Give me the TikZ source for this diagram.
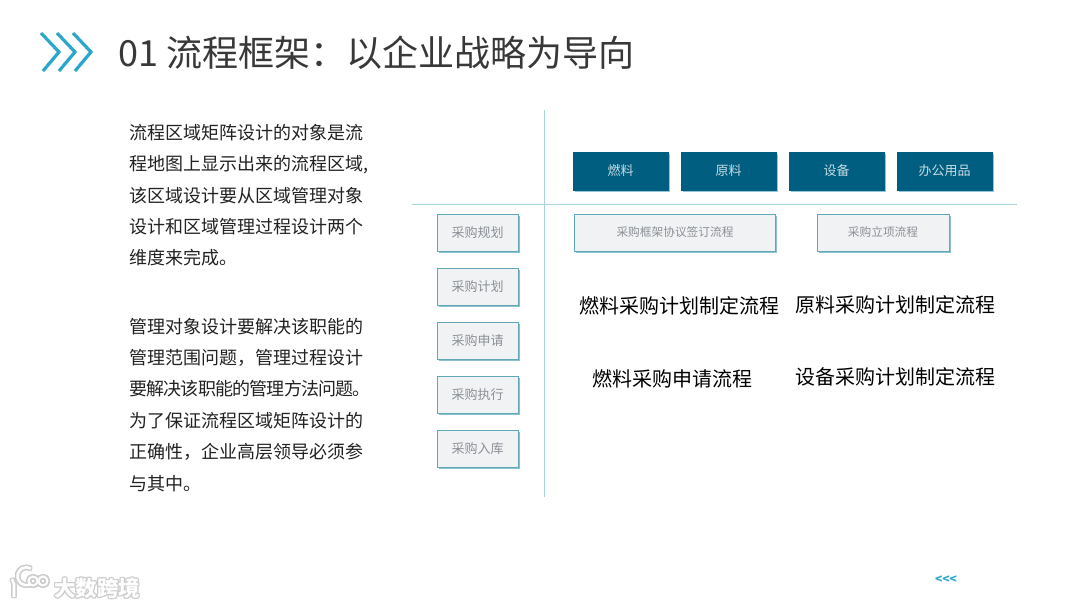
\documentclass[tikz,border=0pt]{standalone}
\usepackage{fontspec}
\setmainfont{Noto Sans CJK SC}
\usetikzlibrary{shadows}
\definecolor{deepteal}{HTML}{005F80}
\definecolor{edgeteal}{HTML}{5FA8BA}
\definecolor{paleline}{HTML}{A9D3DA}
\definecolor{paper}{HTML}{F1F2F4}
\definecolor{chev}{HTML}{2BA6CC}
\definecolor{greytext}{HTML}{8A9096}
\definecolor{bodytext}{HTML}{222222}
\tikzset{
  darkbox/.style={rectangle,fill=deepteal,draw=deepteal,line width=.5pt,minimum width=95pt,minimum height=38pt,inner sep=0pt,
    text=white!78!deepteal,font=\fontsize{13}{13}\selectfont,
    drop shadow={shadow xshift=2.2pt,shadow yshift=-2.2pt,fill=edgeteal,opacity=.65}},
  lightbox/.style={rectangle,fill=paper,draw=edgeteal,line width=1pt,minimum height=37pt,inner sep=0pt,
    text=greytext,font=\fontsize{13}{13}\selectfont,
    drop shadow={shadow xshift=1.6pt,shadow yshift=-1.6pt,fill=edgeteal,opacity=.7}},
  sidebox/.style={lightbox,minimum width=81pt},
  flowtext/.style={inner sep=0pt,text=black,font=\fontsize{20}{20}\selectfont},
  bodyline/.style={anchor=west,inner sep=0pt,text=bodytext,font=\fontsize{18}{18}\selectfont},
  axis/.style={draw=paleline,line width=1pt},
  chevron/.style={draw=chev,line width=3.2pt,line cap=butt,line join=miter},
}
\begin{document}
\begin{tikzpicture}[x=1pt,y=-1pt]
\useasboundingbox (0,0) rectangle (1080,608);
\fill[white] (0,0) rectangle (1080,608);
% title
\foreach \dx in {0,16,32}{
  \draw[chevron] (41+\dx,33) -- (59+\dx,52) -- (43+\dx,71);
}
\node[anchor=west,inner sep=0pt,text=black!78,font=\fontsize{36}{36}\selectfont] (title) at (118,53) {01 流程框架：以企业战略为导向};
% axes
\coordinate (vtop) at (544,110);
\coordinate (vbot) at (544,497);
\coordinate (hleft) at (412,204);
\coordinate (hright) at (1017,204);
\draw[axis] (vtop) -- (vbot);
\draw[axis] (hleft) -- (hright);
% body
\node[bodyline] (b1) at (129,132.5) {流程区域矩阵设计的对象是流};
\node[bodyline] (b2) at (129,165) {程地图上显示出来的流程区域,};
\node[bodyline] (b3) at (129,196) {该区域设计要从区域管理对象};
\node[bodyline] (b4) at (129,227) {设计和区域管理过程设计两个};
\node[bodyline] (b5) at (129,258) {维度来完成。};
\node[bodyline] (b6) at (129,326.5) {管理对象设计要解决该职能的};
\node[bodyline] (b7) at (129,358) {管理范围问题，管理过程设计};
\node[bodyline] (b8) at (129,389) {\addfontfeature{LetterSpace=-4.4}要解决该职能的管理方法问题。};
\node[bodyline] (b9) at (129,421) {为了保证流程区域矩阵设计的};
\node[bodyline] (b10) at (129,452) {正确性，企业高层领导必须参};
\node[bodyline] (b11) at (129,483.5) {与其中。};
% header boxes
\node[darkbox] (h1) at (620.5,171) {燃料};
\node[darkbox] (h2) at (728.5,171) {原料};
\node[darkbox] (h3) at (836.5,171) {设备};
\node[darkbox] (h4) at (944.5,171) {办公用品};
% side boxes
\node[sidebox] (s1) at (477.5,232.5) {采购规划};
\node[sidebox] (s2) at (477.5,286.5) {采购计划};
\node[sidebox] (s3) at (477.5,340.5) {采购申请};
\node[sidebox] (s4) at (477.5,394.5) {采购执行};
\node[sidebox] (s5) at (477.5,448.5) {采购入库};
% wide boxes
\node[lightbox,minimum width=201pt,font=\fontsize{11.7}{12}\selectfont] (w1) at (675,232.5) {采购框架协议签订流程};
\node[lightbox,minimum width=132pt,font=\fontsize{11.7}{12}\selectfont] (w2) at (883,232.5) {采购立项流程};
% flow labels
\node[flowtext] (f1) at (679,306) {燃料采购计划制定流程};
\node[flowtext] (f2) at (895,305) {原料采购计划制定流程};
\node[flowtext] (f3) at (672,379) {燃料采购申请流程};
\node[flowtext] (f4) at (895,377) {设备采购计划制定流程};
% page mark
\node[inner sep=0pt,text=chev,font=\fontsize{12}{12}\bfseries\selectfont] (back) at (946,579.5) {<{}<{}<};
% watermark
\foreach \ox/\oy in {-1/0,1/0,0/-1,0/1,-1/-1,1/1,-1/1,1/-1}{
  \node[inner sep=0pt,text=black!20,font=\fontsize{21.5}{21}\bfseries\selectfont] at (97,588) [xshift=\ox pt,yshift=\oy pt] {大数跨境};
  \draw[black!20,line width=3.2pt,shift={(\ox,\oy)}] (12,579) -- (14,584) -- (14,597);
  \draw[black!20,line width=3.2pt,shift={(\ox,\oy)}] (31,584) arc[start angle=60,end angle=300,radius=9];
  \draw[black!20,line width=2.8pt,shift={(\ox,\oy)}] (33,581) circle[radius=4.5] (43,581) circle[radius=4.5];
}
\node[inner sep=0pt,text=white,font=\fontsize{21.5}{21}\bfseries\selectfont] (mark) at (97,588) {大数跨境};
\draw[white,line width=2.6pt] (12,579) -- (14,584) -- (14,597);
\draw[white,line width=2.6pt] (31,584) arc[start angle=60,end angle=300,radius=9];
\draw[white,line width=2pt] (33,581) circle[radius=4.5] (43,581) circle[radius=4.5];
\end{tikzpicture}
\end{document}
